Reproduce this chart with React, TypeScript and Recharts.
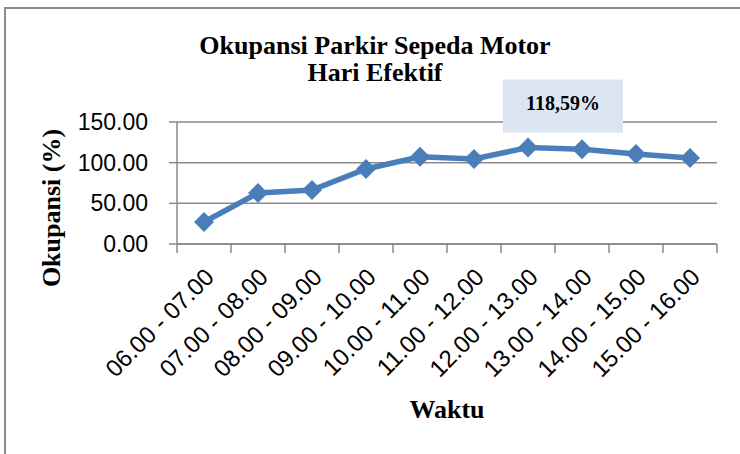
import React from "react";
import { LineChart, Line, XAxis, YAxis, CartesianGrid, LabelList } from "recharts";

const categories = [
  "06.00 - 07.00",
  "07.00 - 08.00",
  "08.00 - 09.00",
  "09.00 - 10.00",
  "10.00 - 11.00",
  "11.00 - 12.00",
  "12.00 - 13.00",
  "13.00 - 14.00",
  "14.00 - 15.00",
  "15.00 - 16.00",
];
const occupancy = [27.0, 62.7, 66.4, 92.2, 107.3, 104.5, 118.59, 116.4, 110.7, 105.6];
const yTicks = [0, 50, 100, 150];
const peakLabel = "118,59%";
const titleLines = ["Okupansi Parkir Sepeda Motor", "Hari Efektif"];
const yTitle = "Okupansi (%)";
const xTitle = "Waktu";

const data = categories.map((c, i) => ({ waktu: c, okupansi: occupancy[i] }));
const peakValue = Math.max(...occupancy);

const LINE = "#4A7EBB";
const GRID = "#8A8A8A";
const SANS = "'Liberation Sans', Arial, sans-serif";
const SERIF = "'Liberation Serif', 'Times New Roman', serif";

const Diamond = (props: any) => {
  const { cx, cy } = props;
  if (cx == null || cy == null) return null;
  const r = 10;
  return (
    <polygon
      points={`${cx},${cy - r} ${cx + r},${cy} ${cx},${cy + r} ${cx - r},${cy}`}
      fill={LINE}
      stroke="none"
    />
  );
};

const XTick = (props: any) => {
  const { x, y, payload, index, width, visibleTicksCount } = props;
  const band = width / visibleTicksCount;
  const last = index === visibleTicksCount - 1;
  const ax = x - 1;
  const ay = y + 22;
  return (
    <g>
      <line x1={x - band / 2} x2={x - band / 2} y1={y} y2={y + 9} stroke={GRID} strokeWidth={1.5} />
      {last && (
        <line x1={x + band / 2} x2={x + band / 2} y1={y} y2={y + 9} stroke={GRID} strokeWidth={1.5} />
      )}
      <text
        x={ax}
        y={ay}
        transform={`rotate(-45, ${ax}, ${ay})`}
        textAnchor="end"
        dominantBaseline="hanging"
        fontFamily={SANS}
        fontSize={24}
        fill="#000"
      >
        {payload.value}
      </text>
    </g>
  );
};

const PeakLabel = (props: any) => {
  const { x, y, value } = props;
  if (value !== peakValue) return null;
  const bx = x - 25;
  const by = y - 68;
  return (
    <g>
      <rect x={bx} y={by} width={120} height={53} fill="#DCE6F2" />
      <text
        x={bx + 60}
        y={by + 30}
        textAnchor="middle"
        fontFamily={SERIF}
        fontWeight="bold"
        fontSize={20}
        fill="#000"
      >
        {peakLabel}
      </text>
    </g>
  );
};

export default function App() {
  return (
    <div
      style={{
        position: "absolute",
        left: 0,
        top: 0,
        width: 740,
        height: 454,
        background: "#fff",
        overflow: "hidden",
      }}
    >
      <div style={{ position: "absolute", left: 4, top: 7, width: 2, height: 447, background: "#8C8C8C" }} />
      <div style={{ position: "absolute", left: 4, top: 7, width: 736, height: 2, background: "#8C8C8C" }} />
      <div style={{ position: "absolute", left: 0, top: 0 }}>
        <LineChart width={740} height={454} data={data} margin={{ top: 122, right: 23, bottom: 0, left: 0 }}>
          <CartesianGrid horizontal vertical={false} stroke={GRID} strokeWidth={1.5} />
          <XAxis
            dataKey="waktu"
            scale="band"
            interval={0}
            height={210}
            tickLine={false}
            tickSize={0}
            tickMargin={0}
            axisLine={{ stroke: GRID, strokeWidth: 1.5 }}
            tick={<XTick />}
          />
          <YAxis
            domain={[0, 150]}
            ticks={yTicks}
            width={177}
            tickSize={8}
            tickMargin={21}
            axisLine={{ stroke: GRID, strokeWidth: 1.5 }}
            tickLine={{ stroke: GRID, strokeWidth: 1.5 }}
            tick={{ fill: "#000", fontSize: 23, fontFamily: SANS }}
            tickFormatter={(v: number) => v.toFixed(2)}
          />
          <Line
            type="linear"
            dataKey="okupansi"
            stroke={LINE}
            strokeWidth={5.5}
            dot={<Diamond />}
            activeDot={false}
            isAnimationActive={false}
          >
            <LabelList dataKey="okupansi" content={<PeakLabel />} />
          </Line>
        </LineChart>
      </div>
      <div
        style={{
          position: "absolute",
          left: 175,
          top: 32,
          width: 400,
          textAlign: "center",
          fontFamily: SERIF,
          fontWeight: "bold",
          fontSize: 26,
          lineHeight: "27px",
          color: "#000",
        }}
      >
        {titleLines.map((t) => (
          <div key={t}>{t}</div>
        ))}
      </div>
      <div
        style={{
          position: "absolute",
          left: 52,
          top: 208,
          transform: "translate(-50%, -50%) rotate(-90deg)",
          whiteSpace: "nowrap",
          fontFamily: SERIF,
          fontWeight: "bold",
          fontSize: 26,
          color: "#000",
        }}
      >
        {yTitle}
      </div>
      <div
        style={{
          position: "absolute",
          left: 447,
          top: 410,
          transform: "translate(-50%, -50%)",
          whiteSpace: "nowrap",
          fontFamily: SERIF,
          fontWeight: "bold",
          fontSize: 26,
          color: "#000",
        }}
      >
        {xTitle}
      </div>
    </div>
  );
}
